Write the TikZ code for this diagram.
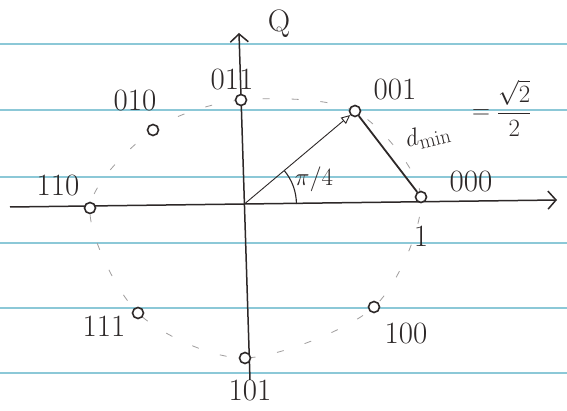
\documentclass[tikz,border=0pt]{standalone}
\usetikzlibrary{arrows.meta}
\definecolor{paperline}{RGB}{140,200,215}
\definecolor{pen}{RGB}{45,40,40}
\tikzset{
  pt/.style={draw=pen, circle, line width=1.6pt, minimum size=11pt, inner sep=0pt, fill=white},
  lbl/.style={text=pen, font=\fontsize{31}{33}\selectfont},
  axis/.style={draw=pen, line width=1.5pt, -{Straight Barb[length=8pt,width=18pt]}},
}
\begin{document}
\begin{tikzpicture}[x=1pt,y=-1pt]
\useasboundingbox (0,0) rectangle (567,411);
\fill[white] (0,0) rectangle (567,411);
\foreach \y in {44,110,177,243,308,373}
  \draw[paperline, line width=1.6pt] (0,\y) -- (567,\y);

% constellation points
\foreach \n/\x/\y in {000/421/197, 001/355/111, 011/241/100, 010/153/130,
                      110/90/208, 111/138/313, 101/245/358, 100/374/307}
  \coordinate (c\n) at (\x,\y);

\draw[pen!45, line width=0.8pt, dash pattern=on 7pt off 22pt]
  plot[smooth cycle] coordinates {(c000) (c001) (c011) (c010) (c110) (c111) (c101) (c100)};

% axes
\coordinate (xw) at (10,207);
\coordinate (xe) at (557,200);
\coordinate (ys) at (250,380);
\coordinate (yn) at (239,33);
\coordinate (o) at (intersection of xw--xe and ys--yn);
\draw[axis] (xw) -- (xe);
\draw[axis] (ys) -- (yn);

\foreach \n in {000,001,011,010,110,111,101,100}
  \node[pt] (s\n) at (c\n) {};

\draw[pen, line width=0.9pt, -{Triangle[open,length=9pt,width=8pt]}] (o) -- (s001);
\draw[pen, line width=1.8pt] (s001) -- (s000);
\draw[pen, line width=1.1pt] (o) ++(52,0) arc[start angle=0, end angle=-40, radius=52];

% labels
\node[lbl] (q) at (279,24) {Q};
\node[lbl] (l000) at (471,182) {000};
\node[lbl] (l001) at (395,90) {001};
\node[lbl] (l011) at (232,80) {011};
\node[lbl] (l010) at (135,101) {010};
\node[lbl] (l110) at (58,186) {110};
\node[lbl] (l111) at (104,326) {111};
\node[lbl] (l101) at (250,391) {101};
\node[lbl] (l100) at (406,334) {100};
\node[lbl] (one) at (421,236) {1};
\node[lbl, font=\fontsize{24}{26}\selectfont] (ang) at (314,179) {$\pi/4$};
\node[lbl, rotate=14, inner sep=0pt] (dmin) at (428,136) {$d_{\min}$};
\node[lbl, anchor=west, inner sep=0pt] (dval) at (472,108) {$=\displaystyle\frac{\sqrt{2}}{2}$};
\end{tikzpicture}
\end{document}
